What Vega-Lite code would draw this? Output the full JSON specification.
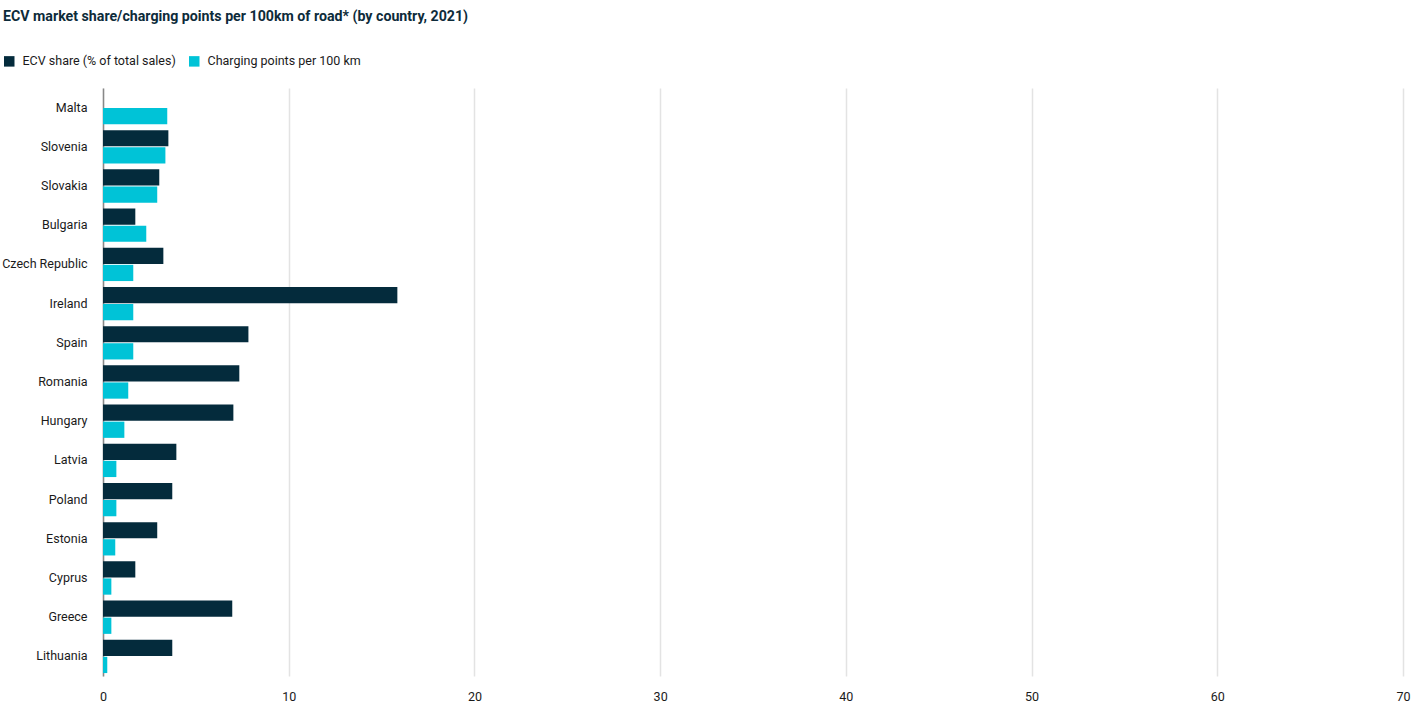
{
  "$schema": "https://vega.github.io/schema/vega-lite/v6.json",
  "autosize": {"type": "none"},
  "width": 1300,
  "height": 588,
  "padding": {"left": 103, "top": 88, "right": 14, "bottom": 32},
  "title": {
    "text": "ECV market share/charging points per 100km of road* (by country, 2021)",
    "anchor": "start",
    "frame": "group",
    "dx": -100,
    "offset": 31,
    "font": "Roboto",
    "fontSize": 14.2,
    "fontWeight": "bold",
    "color": "#0d2b3a"
  },
  "data": {
    "values": [
      {"country": "Malta", "series": "Charging points per 100 km", "value": 3.46},
      {"country": "Slovenia", "series": "ECV share (% of total sales)", "value": 3.52},
      {"country": "Slovenia", "series": "Charging points per 100 km", "value": 3.36},
      {"country": "Slovakia", "series": "ECV share (% of total sales)", "value": 3.03},
      {"country": "Slovakia", "series": "Charging points per 100 km", "value": 2.92},
      {"country": "Bulgaria", "series": "ECV share (% of total sales)", "value": 1.74},
      {"country": "Bulgaria", "series": "Charging points per 100 km", "value": 2.33},
      {"country": "Czech Republic", "series": "ECV share (% of total sales)", "value": 3.25},
      {"country": "Czech Republic", "series": "Charging points per 100 km", "value": 1.63},
      {"country": "Ireland", "series": "ECV share (% of total sales)", "value": 15.85},
      {"country": "Ireland", "series": "Charging points per 100 km", "value": 1.63},
      {"country": "Spain", "series": "ECV share (% of total sales)", "value": 7.83},
      {"country": "Spain", "series": "Charging points per 100 km", "value": 1.63},
      {"country": "Romania", "series": "ECV share (% of total sales)", "value": 7.34},
      {"country": "Romania", "series": "Charging points per 100 km", "value": 1.36},
      {"country": "Hungary", "series": "ECV share (% of total sales)", "value": 7.02},
      {"country": "Hungary", "series": "Charging points per 100 km", "value": 1.15},
      {"country": "Latvia", "series": "ECV share (% of total sales)", "value": 3.95},
      {"country": "Latvia", "series": "Charging points per 100 km", "value": 0.72},
      {"country": "Poland", "series": "ECV share (% of total sales)", "value": 3.73},
      {"country": "Poland", "series": "Charging points per 100 km", "value": 0.72},
      {"country": "Estonia", "series": "ECV share (% of total sales)", "value": 2.92},
      {"country": "Estonia", "series": "Charging points per 100 km", "value": 0.66},
      {"country": "Cyprus", "series": "ECV share (% of total sales)", "value": 1.74},
      {"country": "Cyprus", "series": "Charging points per 100 km", "value": 0.45},
      {"country": "Greece", "series": "ECV share (% of total sales)", "value": 6.96},
      {"country": "Greece", "series": "Charging points per 100 km", "value": 0.45},
      {"country": "Lithuania", "series": "ECV share (% of total sales)", "value": 3.73},
      {"country": "Lithuania", "series": "Charging points per 100 km", "value": 0.23}
    ]
  },
  "mark": {"type": "bar"},
  "encoding": {
    "y": {
      "field": "country",
      "type": "nominal",
      "sort": ["Malta", "Slovenia", "Slovakia", "Bulgaria", "Czech Republic", "Ireland", "Spain", "Romania", "Hungary", "Latvia", "Poland", "Estonia", "Cyprus", "Greece", "Lithuania"],
      "scale": {"paddingInner": 0.15, "paddingOuter": 0.075},
      "axis": {
        "title": null,
        "ticks": false,
        "domain": true,
        "domainColor": "#888888",
        "domainWidth": 1.5,
        "labelFont": "Roboto",
        "labelFontSize": 12.5,
        "labelColor": "#1a1a1a",
        "labelPadding": 16
      }
    },
    "yOffset": {
      "field": "series",
      "type": "nominal",
      "sort": ["ECV share (% of total sales)", "Charging points per 100 km"],
      "scale": {"paddingInner": 0.05}
    },
    "x": {
      "field": "value",
      "type": "quantitative",
      "scale": {"domain": [0, 70]},
      "axis": {
        "title": null,
        "values": [0, 10, 20, 30, 40, 50, 60, 70],
        "domain": false,
        "ticks": false,
        "grid": true,
        "gridColor": "#e3e3e3",
        "gridWidth": 1.5,
        "labelFlush": false,
        "labelFont": "Roboto",
        "labelFontSize": 12.5,
        "labelColor": "#1a1a1a",
        "labelPadding": 14
      }
    },
    "color": {
      "field": "series",
      "type": "nominal",
      "sort": ["ECV share (% of total sales)", "Charging points per 100 km"],
      "scale": {
        "domain": ["ECV share (% of total sales)", "Charging points per 100 km"],
        "range": ["#042b3c", "#00c3d7"]
      },
      "legend": {
        "title": null,
        "orient": "none",
        "direction": "horizontal",
        "legendX": -100,
        "legendY": -33,
        "symbolType": "square",
        "symbolSize": 110,
        "symbolStrokeWidth": 0,
        "labelFont": "Roboto",
        "labelFontSize": 12.5,
        "labelColor": "#1a1a1a",
        "columnPadding": 12,
        "labelOffset": 7
      }
    }
  },
  "config": {
    "view": {"stroke": null},
    "background": "#ffffff"
  }
}
